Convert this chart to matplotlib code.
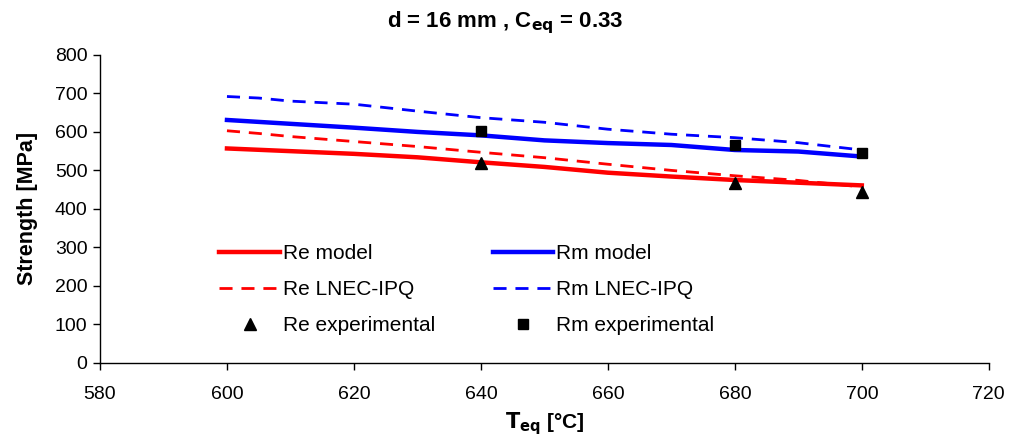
import matplotlib
matplotlib.use("Agg")
import matplotlib.pyplot as plt

plt.rcParams['font.family'] = ['Liberation Sans', 'DejaVu Sans']

T_model = [600, 610, 620, 630, 640, 650, 660, 670, 680, 690, 700]
Re_model = [557, 550, 543, 534, 521, 509, 494, 484, 475, 468, 461]
Rm_model = [631, 621, 611, 600, 591, 578, 571, 566, 553, 549, 536]

T_lnec = [600, 605, 610, 620, 630, 640, 650, 660, 670, 680, 690, 700]
Re_lnec = [603, 596, 588, 575, 562, 547, 533, 516, 500, 486, 474, 457]
Rm_lnec = [692, 688, 680, 672, 654, 637, 625, 607, 594, 585, 572, 553]

T_exp = [640, 680, 700]
Re_exp = [520, 467, 445]
Rm_exp = [603, 566, 544]

fig = plt.figure(figsize=(10.1, 4.43), dpi=100)
ax = fig.add_axes([0.099, 0.181, 0.880, 0.695])

dash = (4.7, 3.2)
ax.plot(T_model, Re_model, color='#ff0000', lw=3.2, label='Re model')
ax.plot(T_model, Rm_model, color='#0000ff', lw=3.2, label='Rm model')
ax.plot(T_lnec, Re_lnec, color='#ff0000', lw=2.0, dashes=dash, label='Re LNEC-IPQ')
ax.plot(T_lnec, Rm_lnec, color='#0000ff', lw=2.0, dashes=dash, label='Rm LNEC-IPQ')
ax.plot(T_exp, Re_exp, linestyle='none', marker='^', color='black', ms=8.5, label='Re experimental')
ax.plot(T_exp, Rm_exp, linestyle='none', marker='s', color='black', ms=7, label='Rm experimental')

ax.set_xlim(580, 720)
ax.set_ylim(0, 800)
ax.set_xticks(range(580, 721, 20))
ax.set_yticks(range(0, 801, 100))
for s in ['top', 'right']:
    ax.spines[s].set_visible(False)
for s in ['left', 'bottom']:
    ax.spines[s].set_linewidth(1.0)
ax.tick_params(axis='both', labelsize=14, length=5, width=1.0, direction='out')
ax.tick_params(axis='x', pad=12)
ax.tick_params(axis='y', pad=4)

ax.set_ylabel('Strength [MPa]', fontsize=15.5, fontweight='bold', labelpad=12)
ax.set_xlabel(r'$\mathbf{T_{eq}}$ [°C]', fontsize=15, fontweight='bold', labelpad=5)
fig.text(0.5, 0.95, r'd = 16 mm , C$\mathbf{_{eq}}$ = 0.33', ha='center', va='center',
         fontsize=16, fontweight='bold')

handles, labels = ax.get_legend_handles_labels()
order = [0, 2, 4, 1, 3, 5]
leg = ax.legend([handles[i] for i in order], [labels[i] for i in order],
                ncol=2, loc='upper left', bbox_to_anchor=(0.125, 0.412),
                frameon=False, fontsize=15, handlelength=2.9, handletextpad=0.15,
                columnspacing=2.75, labelspacing=0.82, borderaxespad=0)

fig.savefig('out.png', dpi=100)
